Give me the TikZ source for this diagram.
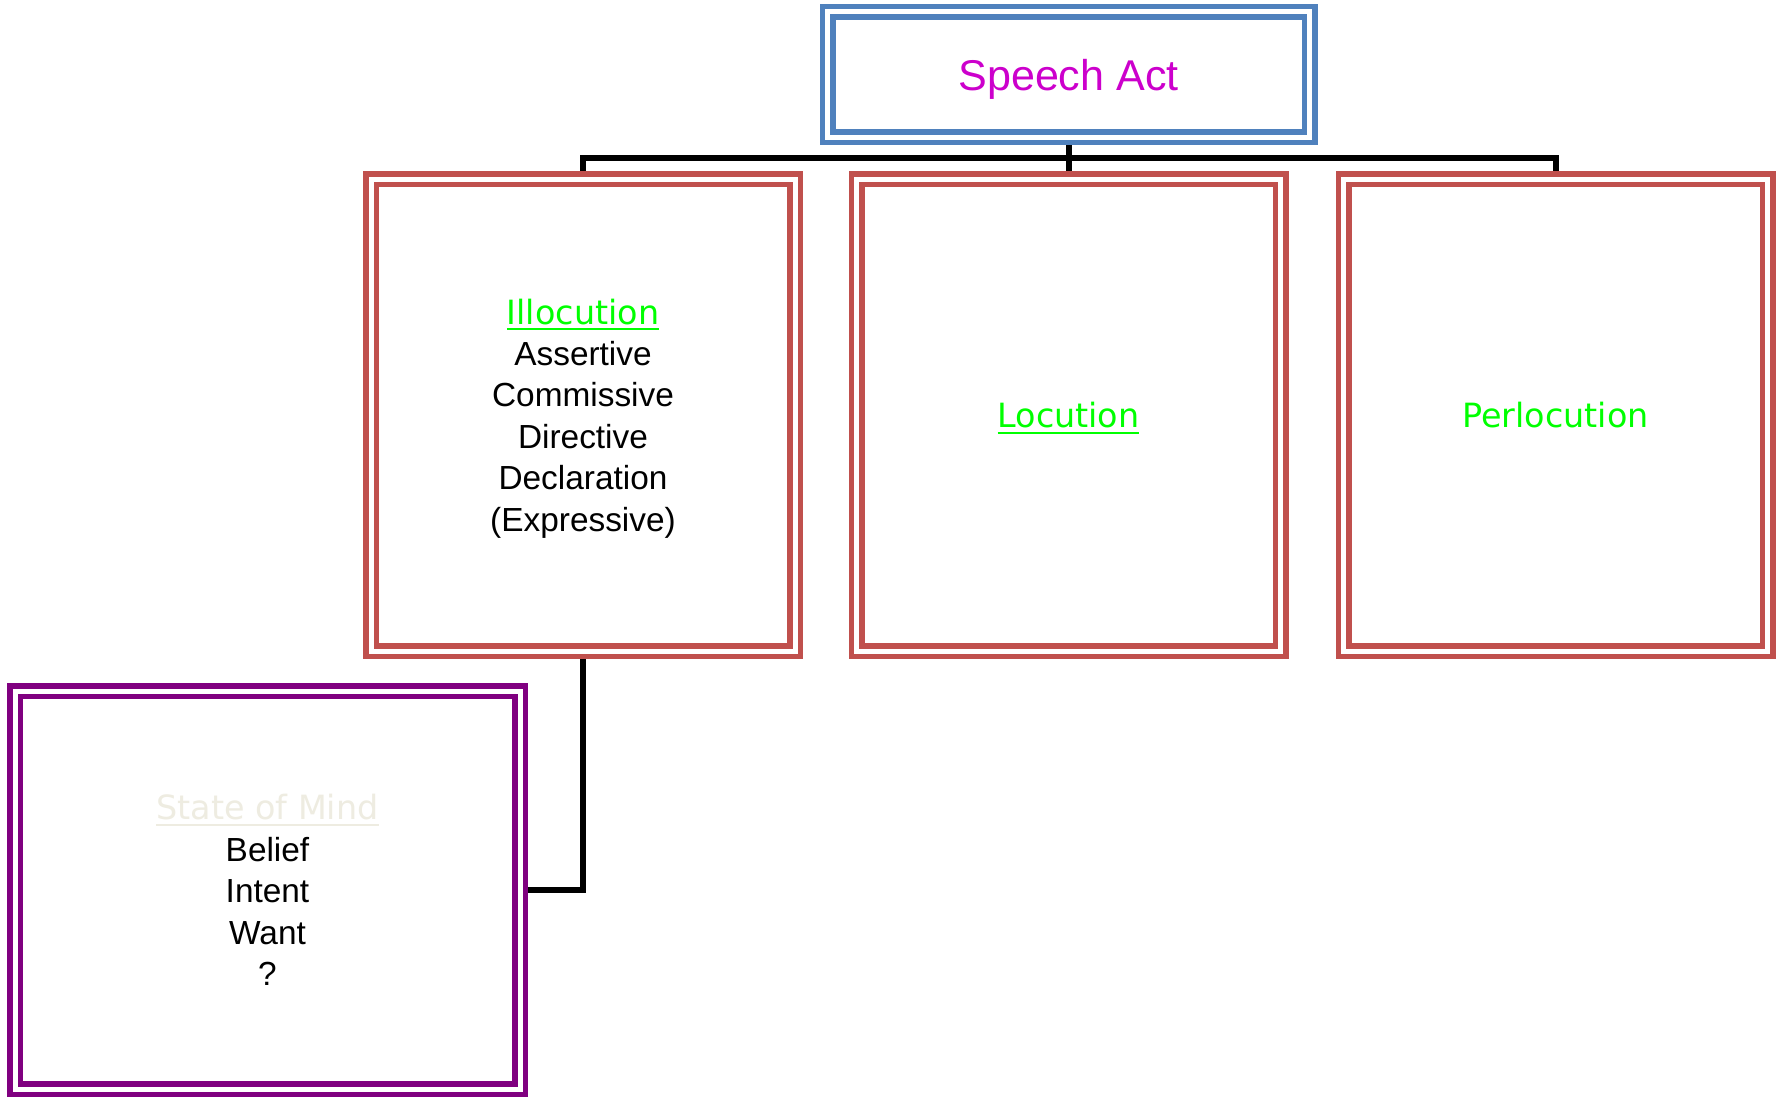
\documentclass[tikz,border=0pt]{standalone}
\usepackage{fontspec}
\setmainfont{Liberation Sans}
\newfontfamily\titlefont{DejaVu Sans}

\newsavebox{\titlebox}
\newcommand{\titulo}[2]{{\titlefont\color{#1}\sbox{\titlebox}{#2}%
    \rlap{\rule[-3.4pt]{\wd\titlebox}{1.1pt}}\usebox{\titlebox}}}

\begin{document}
\begin{tikzpicture}[
        box/.style={draw=#1, fill=white, line width=0.11cm, double=white,
            double distance=0.1cm, inner sep=0pt, outer sep=0.16cm, align=center,
            text depth=0pt, font=\fontsize{19pt}{23.6pt}\selectfont},
        redbox/.style={box=boxred, minimum width=8.48cm, minimum height=9.44cm},
        link/.style={line width=0.12cm}
    ]

    % Definindo cores
    \definecolor{boxblue}{RGB}{79, 129, 189}    % Azul da caixa superior
    \definecolor{boxred}{RGB}{192, 80, 77}      % Vermelho das tres caixas
    \definecolor{boxpurple}{RGB}{128, 0, 128}   % Roxo da caixa de baixo
    \definecolor{textmag}{RGB}{204, 0, 204}     % Magenta do titulo
    \definecolor{textgreen}{RGB}{0, 255, 0}     % Verde dos subtitulos
    \definecolor{textbeige}{RGB}{238, 236, 225} % Bege claro

    \useasboundingbox (0,0) rectangle (35.62,-21.94);

    % 1. Caixa do topo
    \node[box=boxblue, minimum width=9.64cm, minimum height=2.5cm, text=textmag,
        font=\fontsize{24.5pt}{30pt}\selectfont] (sa) at (21.37,-1.49) {Speech Act};

    % 2. As tres caixas vermelhas
    \node[redbox] (ill) at (11.66,-8.30) {
        \titulo{textgreen}{Illocution} \\
        Assertive \\ Commissive \\ Directive \\ Declaration \\ (Expressive)
    };
    \node[redbox] (loc) at (21.37,-8.30) {\titulo{textgreen}{Locution}};
    \node[redbox] (per) at (31.11,-8.30) {{\titlefont\color{textgreen}Perlocution}};

    % 3. Caixa roxa (estado mental)
    \node[box=boxpurple, minimum width=10.1cm, minimum height=7.96cm] (som) at (5.35,-17.80) {
        \titulo{textbeige}{State of Mind} \\
        Belief \\ Intent \\ Want \\ ?
    };

    % 4. Linhas de ligacao
    \coordinate (bus) at (21.37,-3.16);
    \draw[link] (sa.south) -- (loc.north);
    \draw[link] (ill.north) |- (bus) -| (per.north);
    \draw[link] (ill.south) |- (som.east);

\end{tikzpicture}
\end{document}
